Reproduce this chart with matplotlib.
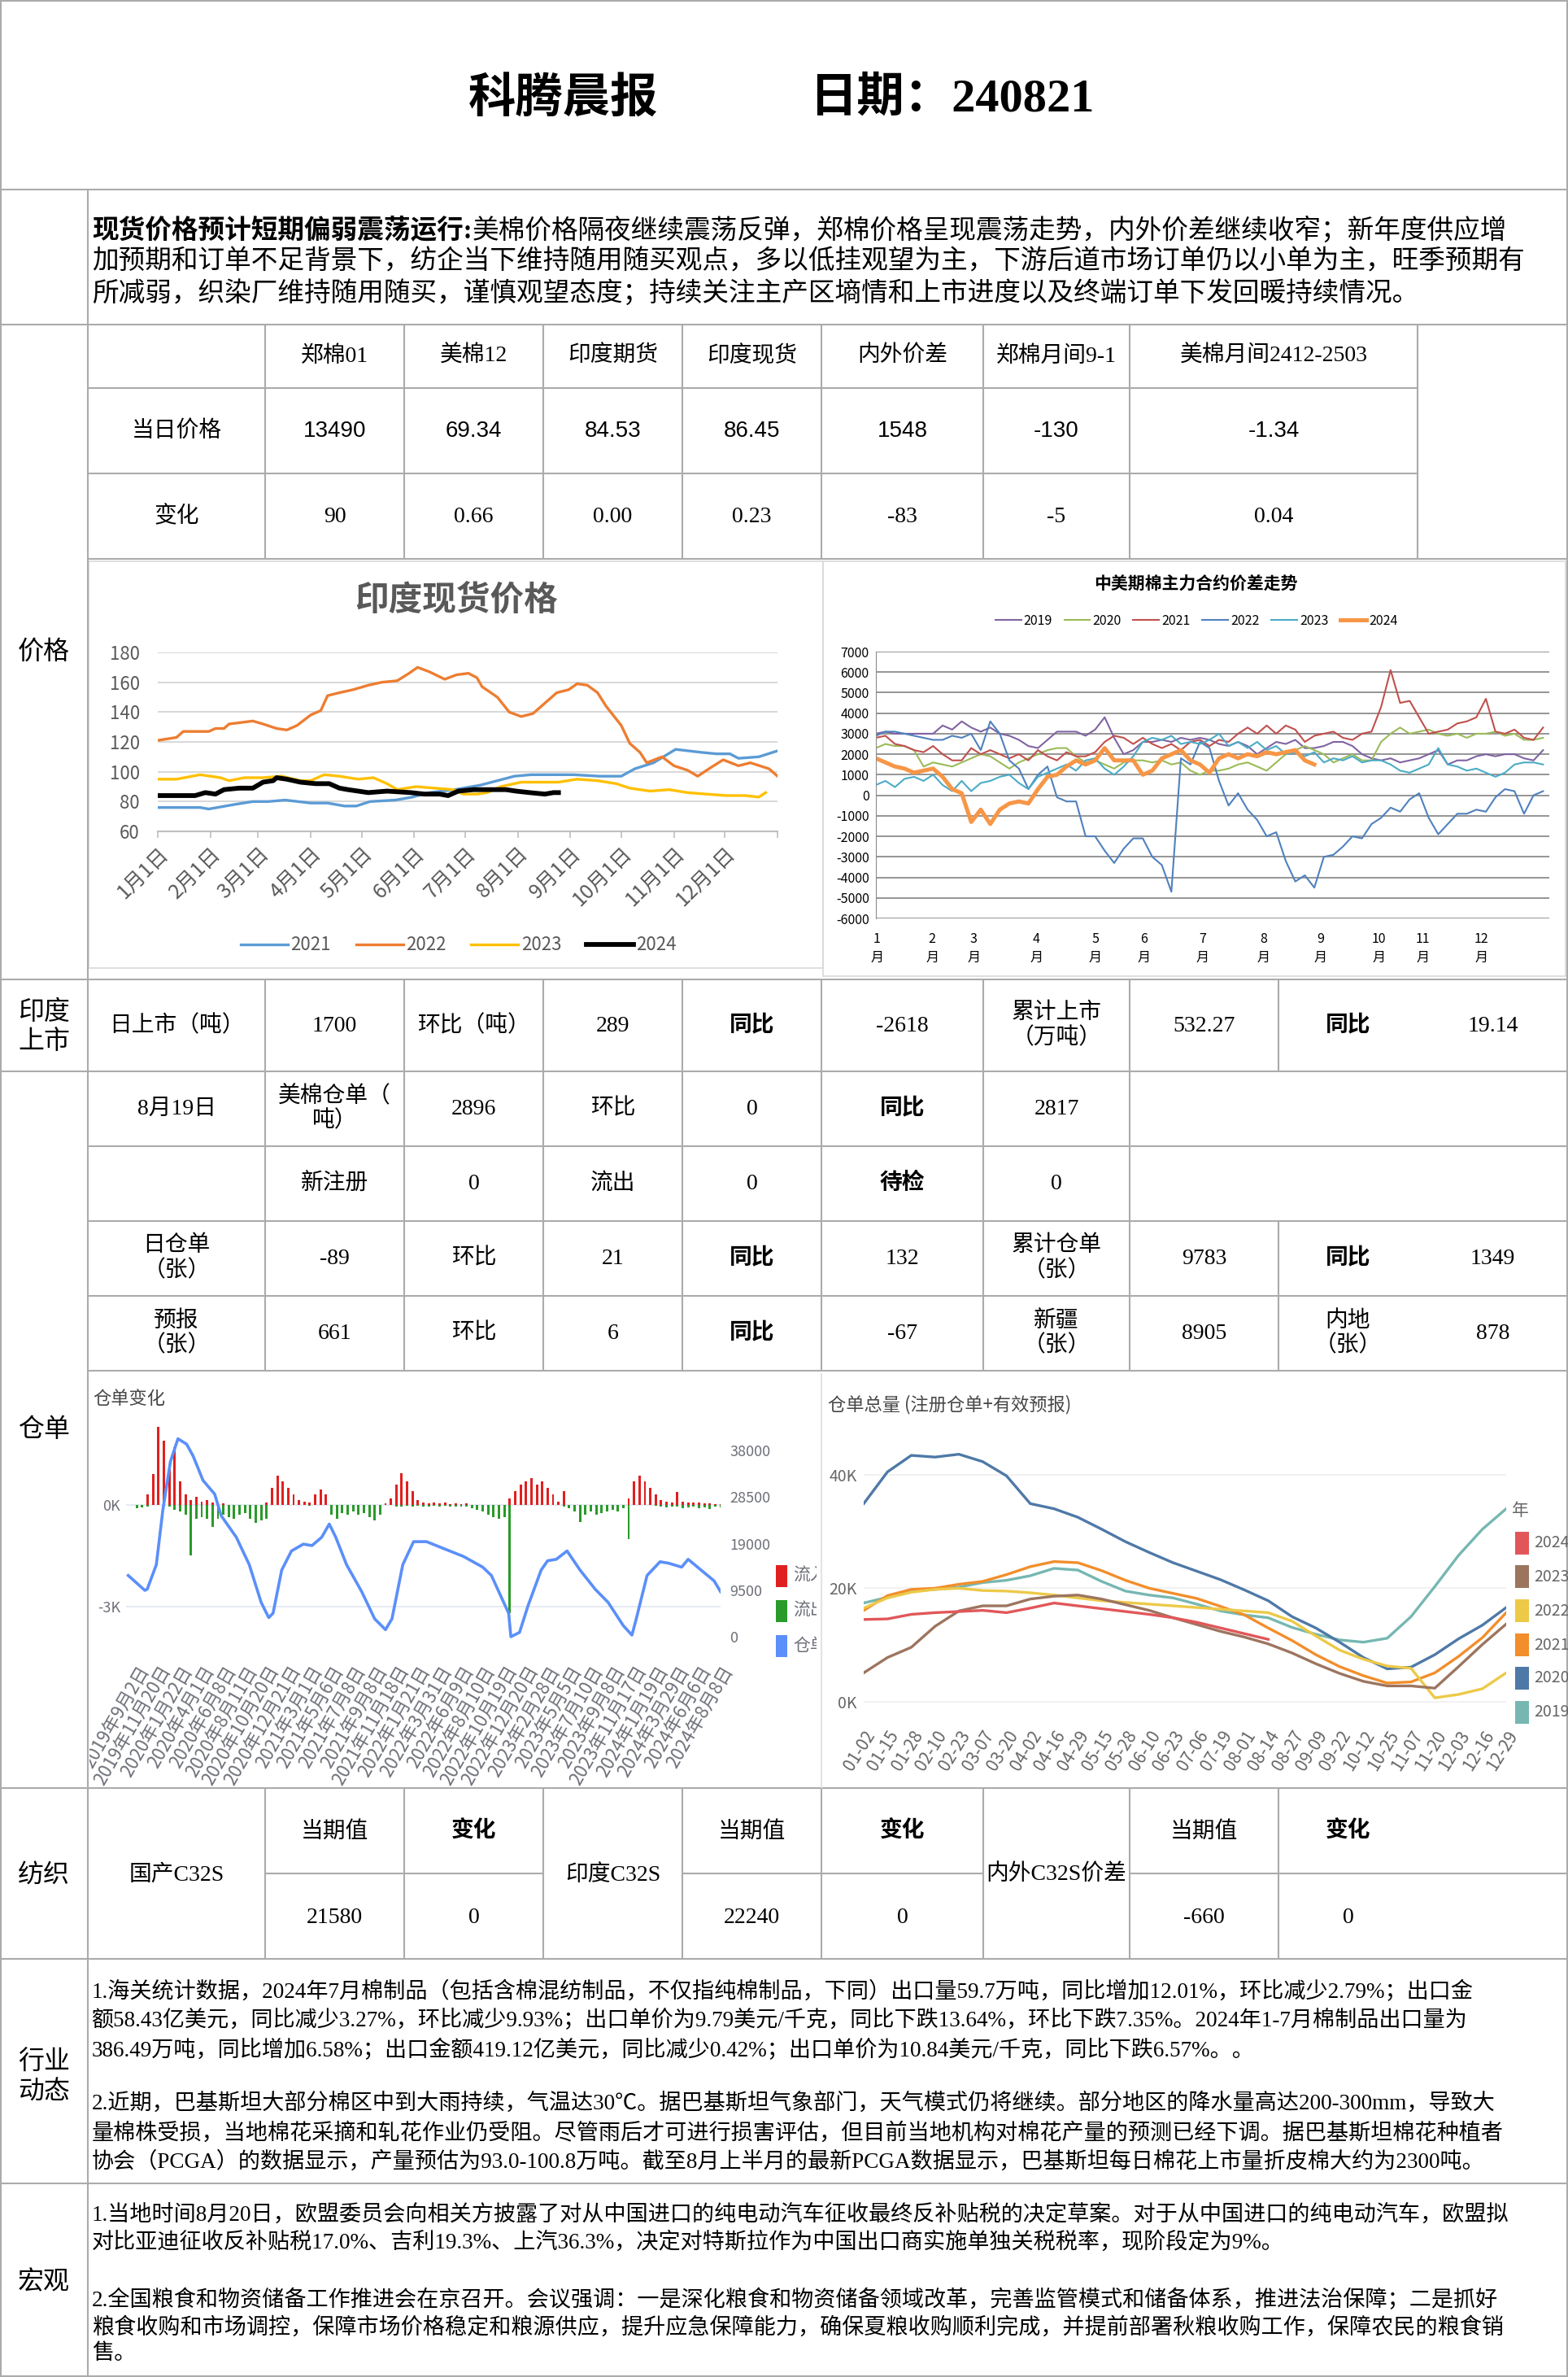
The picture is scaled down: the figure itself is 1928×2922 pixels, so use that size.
import numpy as np
import matplotlib
matplotlib.use('Agg')
import matplotlib.pyplot as plt
from matplotlib.patches import Rectangle
from matplotlib.transforms import Bbox

W, H = 1928, 2922
SANS = ['Noto Sans CJK SC', 'DejaVu Sans']
SERIF = ['Liberation Serif', 'Noto Sans CJK SC', 'DejaVu Sans']
plt.rcParams['font.family'] = SANS
plt.rcParams['axes.unicode_minus'] = False

# ---------------- table content ----------------
summary_bold = '现货价格预计短期偏弱震荡运行:'
summary_lines = ['美棉价格隔夜继续震荡反弹，郑棉价格呈现震荡走势，内外价差继续收窄；新年度供应增',
                 '加预期和订单不足背景下，纺企当下维持随用随买观点，多以低挂观望为主，下游后道市场订单仍以小单为主，旺季预期有',
                 '所减弱，织染厂维持随用随买，谨慎观望态度；持续关注主产区墒情和上市进度以及终端订单下发回暖持续情况。']

price_cols = ['郑棉01', '美棉12', '印度期货', '印度现货', '内外价差', '郑棉月间9-1', '美棉月间2412-2503']
price_today = ['13490', '69.34', '84.53', '86.45', '1548', '-130', '-1.34']
price_change = ['90', '0.66', '0.00', '0.23', '-83', '-5', '0.04']

india_row = ['日上市（吨）', '1700', '环比（吨）', '289', '同比', '-2618', '累计上市\n（万吨）', '532.27', '同比', '19.14']
wr_row1 = ['8月19日', '美棉仓单（\n吨）', '2896', '环比', '0', '同比', '2817']
wr_row2 = ['', '新注册', '0', '流出', '0', '待检', '0']
wr_row3 = ['日仓单\n（张）', '-89', '环比', '21', '同比', '132', '累计仓单\n（张）', '9783', '同比', '1349']
wr_row4 = ['预报\n（张）', '661', '环比', '6', '同比', '-67', '新疆\n（张）', '8905', '内地\n（张）', '878']
bold_words = {'同比', '待检'}

yarn_names = ['国产C32S', '印度C32S', '内外C32S价差']
yarn_now = ['21580', '22240', '-660']
yarn_chg = ['0', '0', '0']

industry_paras = [
    ['1.海关统计数据，2024年7月棉制品（包括含棉混纺制品，不仅指纯棉制品，下同）出口量59.7万吨，同比增加12.01%，环比减少2.79%；出口金',
     '额58.43亿美元，同比减少3.27%，环比减少9.93%；出口单价为9.79美元/千克，同比下跌13.64%，环比下跌7.35%。2024年1-7月棉制品出口量为',
     '386.49万吨，同比增加6.58%；出口金额419.12亿美元，同比减少0.42%；出口单价为10.84美元/千克，同比下跌6.57%。。'],
    ['2.近期，巴基斯坦大部分棉区中到大雨持续，气温达30℃。据巴基斯坦气象部门，天气模式仍将继续。部分地区的降水量高达200-300mm，导致大',
     '量棉株受损，当地棉花采摘和轧花作业仍受阻。尽管雨后才可进行损害评估，但目前当地机构对棉花产量的预测已经下调。据巴基斯坦棉花种植者',
     '协会（PCGA）的数据显示，产量预估为93.0-100.8万吨。截至8月上半月的最新PCGA数据显示，巴基斯坦每日棉花上市量折皮棉大约为2300吨。']]
macro_paras = [
    ['1.当地时间8月20日，欧盟委员会向相关方披露了对从中国进口的纯电动汽车征收最终反补贴税的决定草案。对于从中国进口的纯电动汽车，欧盟拟',
     '对比亚迪征收反补贴税17.0%、吉利19.3%、上汽36.3%，决定对特斯拉作为中国出口商实施单独关税税率，现阶段定为9%。'],
    ['2.全国粮食和物资储备工作推进会在京召开。会议强调：一是深化粮食和物资储备领域改革，完善监管模式和储备体系，推进法治保障；二是抓好',
     '粮食收购和市场调控，保障市场价格稳定和粮源供应，提升应急保障能力，确保夏粮收购顺利完成，并提前部署秋粮收购工作，保障农民的粮食销',
     '售。']]

# ---------------- chart data ----------------
# India spot price, day of year
in_days_2021 = [0, 11, 25, 30, 35, 45, 56, 65, 75, 90, 100, 110, 117, 125, 140, 150, 160, 175, 190, 200,
                210, 220, 235, 245, 260, 273, 281, 292, 305, 320, 329, 337, 342, 354, 365]
in_2021 = [76, 76, 76, 75, 76, 78, 80, 80, 81, 79, 79, 77, 77, 80, 81, 83, 86, 88, 91, 94,
           97, 98, 98, 98, 97, 97, 102, 106, 115, 113, 112, 112, 109, 110, 114]
in_days_2022 = [0, 11, 15, 30, 34, 39, 42, 56, 62, 70, 76, 82, 90, 96, 100, 107, 115, 124, 132, 141,
                148, 153, 160, 169, 176, 183, 188, 191, 200, 207, 214, 221, 228, 235, 242, 247, 253, 259, 264, 273,
                278, 284, 288, 297, 304, 312, 318, 326, 333, 342, 349, 360, 365]
in_2022 = [121, 123, 127, 127, 129, 129, 132, 134, 132, 129, 128, 131, 138, 141, 151, 153, 155, 158, 160, 161,
           166, 170, 167, 162, 165, 166, 163, 157, 150, 140, 137, 139, 146, 153, 155, 159, 158, 153, 144, 131,
           119, 113, 106, 110, 104, 101, 97, 103, 108, 104, 106, 102, 97]
in_days_2023 = [0, 11, 25, 37, 42, 51, 62, 73, 84, 90, 98, 107, 118, 127, 135, 141, 152, 163, 174, 180,
                188, 194, 202, 214, 225, 236, 247, 259, 270, 278, 290, 301, 312, 323, 335, 346, 354, 358]
in_2023 = [95, 95, 98, 96, 94, 96, 96, 97, 94, 94, 98, 97, 95, 96, 92, 88, 90, 89, 88, 85,
           85, 86, 90, 93, 93, 93, 95, 94, 92, 89, 87, 88, 86, 85, 84, 84, 83, 86]
in_days_2024 = [0, 22, 28, 34, 39, 48, 56, 62, 68, 70, 76, 84, 93, 101, 107, 112, 124, 135, 149, 157,
                166, 171, 177, 186, 197, 205, 211, 219, 228, 233, 236]
in_2024 = [84, 84, 86, 85, 88, 89, 89, 93, 94, 96, 95, 93, 92, 92, 89, 88, 86, 87, 86, 85,
           85, 84, 87, 88, 88, 88, 87, 86, 85, 86, 86]
month_days = [0, 31, 59, 90, 120, 151, 181, 212, 243, 273, 304, 334]
month_labels = ['%d月1日' % m for m in range(1, 13)]

# China-US futures spread, sampled every ~3.5 trading days
spread_2019 = [3000, 3100, 3000, 3000, 3000, 3000, 3000, 3400, 3200, 3600,
               3300, 3100, 3300, 3000, 2900, 2700, 2400, 2300, 2700, 3100,
               3100, 3100, 2900, 3200, 3800, 2800, 2000, 2200, 2600, 2600,
               2700, 2600, 2800, 2700, 2800, 2700, 2500, 2400, 2600, 2400,
               2000, 2300, 2600, 2500, 2700, 2300, 2300, 2400, 2600, 2600,
               2400, 2000, 1800, 1700, 1800, 1600, 1700, 1800, 2000, 2200,
               1500, 1700, 1700, 1900, 2000, 1900, 2000, 2000, 1800, 1700, 2200]
spread_2020 = [2300, 2500, 2400, 2400, 2200, 1400, 1600, 1500, 1400, 1600,
               1800, 2000, 1900, 1600, 1300, 1600, 1800, 2000, 2200, 2300,
               2300, 1900, 1600, 1700, 1500, 1300, 1600, 1700, 1700, 1600,
               1700, 1500, 1600, 1200, 1000, 1200, 1200, 1300, 1500, 1600,
               1400, 1200, 1600, 2000, 2200, 2400, 2200, 2000, 1600, 1800,
               2000, 1700, 1700, 2600, 3000, 3300, 3000, 3100, 3200, 3000,
               2900, 3000, 2800, 3000, 3000, 3100, 2900, 3000, 2700, 2700, 2800]
spread_2021 = [2800, 2900, 2500, 2400, 2200, 2100, 2400, 2000, 1700, 1700,
               2300, 2000, 2200, 2000, 1800, 2000, 1700, 2200, 1900, 1700,
               2100, 1900, 1900, 2100, 2600, 2900, 2800, 2500, 2800, 2500,
               2300, 2500, 2200, 2600, 2700, 2400, 2700, 2600, 3000, 3300,
               3000, 3400, 3000, 3400, 3200, 2600, 2900, 3000, 3100, 2800,
               2700, 3000, 3100, 4300, 6100, 4500, 4600, 3800, 3000, 3100,
               3200, 3500, 3600, 3800, 4700, 3100, 3000, 3200, 2800, 2700, 3300]
spread_2022 = [2900, 3100, 3100, 3000, 2900, 2800, 2700, 2700, 2900, 2800,
               3000, 2200, 3600, 3000, 1700, 1300, 300, 1000, 1400, -100,
               -300, -300, -2000, -2000, -2700, -3300, -2600, -2100, -2100, -3000,
               -3400, -4700, 1800, 1500, 2600, 2300, 700, -500, 100, -700,
               -1200, -2000, -1800, -3200, -4200, -3900, -4500, -3000, -2900, -2500,
               -2000, -2100, -1400, -1100, -600, -800, -200, 100, -1100, -1900,
               -1400, -900, -900, -700, -800, -100, 300, 200, -900, 0, 200]
spread_2023 = [500, 700, 400, 800, 900, 700, 1000, 500, 200, 700,
               200, 600, 700, 900, 1000, 600, 300, 900, 1100, 1300,
               1500, 1200, 1700, 1800, 1300, 1000, 1400, 1900, 2600, 2800,
               2700, 2900, 2500, 2600, 2500, 2700, 3000, 2400, 2600, 2300,
               2600, 2200, 2400, 2000, 2100, 1900, 2100, 1600, 1800, 1700,
               1900, 1600, 1700, 1700, 1500, 1200, 1100, 1300, 1500, 2300,
               1500, 1400, 1200, 1300, 1100, 900, 1100, 1500, 1600, 1600, 1500]
spread_2024 = [1800, 1600, 1400, 1300, 1100, 1200, 1300, 900, 300, 100,
               -1300, -700, -1400, -700, -400, -300, -400, 300, 900, 1000,
               1400, 1700, 1500, 1700, 2300, 1700, 1700, 1700, 1000, 1200,
               1800, 2000, 2200, 1700, 1500, 1100, 1800, 2000, 1800, 2000,
               1900, 2100, 2000, 2100, 2200, 1700, 1500]
spread_month_pos = [0.1, 5.9, 10.25, 16.85, 23.0, 28.15, 34.25, 40.65, 46.65, 52.75, 57.4, 63.5]

# warehouse receipt change (x in date-label units)
wr_dates = ['2019年9月2日', '2019年11月20日', '2020年1月22日', '2020年4月1日', '2020年6月8日', '2020年8月11日',
            '2020年10月20日', '2020年12月21日', '2021年3月1日', '2021年5月6日', '2021年7月8日', '2021年9月8日',
            '2021年11月18日', '2022年1月21日', '2022年3月31日', '2022年6月9日', '2022年8月10日', '2022年10月19日',
            '2022年12月20日', '2023年2月28日', '2023年5月5日', '2023年7月10日', '2023年9月8日', '2023年11月17日',
            '2024年1月19日', '2024年3月29日', '2024年6月6日', '2024年8月8日']
wr_inflow = [0, 0, 300, 900, 2300, 1900, 1100, 1700, 700, 300, 150, 250, 100, 150, 60, 80,
             50, 0, 0, 0, 0, 0, 0, 0, 60, 500, 860, 700, 500, 300, 150, 100,
             80, 300, 460, 300, 0, 0, 0, 0, 0, 0, 0, 0, 0, 0, 50, 200,
             600, 940, 700, 400, 150, 60, 50, 80, 40, 60, 30, 50, 30, 40, 0, 0,
             0, 0, 0, 0, 0, 200, 400, 600, 700, 780, 600, 700, 500, 300, 100, 400,
             0, 0, 0, 0, 0, 0, 0, 0, 0, 0, 0, 200, 700, 860, 700, 500,
             300, 150, 100, 80, 380, 100, 60, 80, 60, 40, 50, 30, 20]
wr_outflow = [-100, -80, -40, 0, 0, 0, -50, -150, -200, -300, -1500, -400, -350, -400, -650, -420,
              -300, -350, -400, -300, -250, -400, -540, -450, -420, 0, 0, 0, 0, 0, 0, 0,
              -20, 0, 0, 0, -300, -400, -250, -300, -200, -300, -250, -350, -450, -300, 0, 0,
              -50, -40, -30, -60, -30, -40, -60, -30, -50, -30, -40, -60, -40, -60, -100, -150,
              -200, -300, -350, -400, -350, -3200, 0, 0, 0, 0, 0, 0, 0, 0, 0, -50,
              -100, -200, -500, -300, -200, -300, -250, -200, -150, -200, -100, -1000, 0, 0, 0, 0,
              -30, -50, -80, -60, -60, -100, -80, -50, -100, -80, -120, -60, -80]
wr_u = [-0.4, 0.37, 0.48, 0.9, 1.2, 1.55, 1.9, 2.3, 2.6, 3.06, 3.6, 3.9, 4.6, 5.2, 5.75, 6.1, 6.3, 6.7, 7.15, 7.7,
        8.1, 8.55, 8.9, 9.2, 9.7, 10.4, 11.0, 11.5, 11.8, 12.3, 12.8, 13.4, 14.3, 15.1, 16.0, 16.4, 17.2, 17.3, 17.7, 18.1,
        18.7, 19.0, 19.4, 19.9, 20.5, 21.2, 21.8, 22.5, 22.9, 23.1, 23.6, 24.2, 24.6, 25.2, 25.5, 26.1, 26.7, 27.0]
wr_total = [12500, 9460, 9700, 14700, 25800, 35700, 40400, 39300, 36900, 31900, 29100, 24700, 20300, 14700, 7000, 3900,
            4800, 13600, 17500, 18900, 18600, 20300, 23000, 20300, 14700, 9200, 3650, 1440, 3650, 14700, 19400, 19400,
            17800, 16400, 14200, 12500, 4760, 0, 880, 6400, 13600, 15500, 15800, 17500, 13600, 9700, 7000, 2270,
            330, 3650, 12500, 15300, 15000, 14200, 15800, 13600, 11400, 9200]

# total receipts (registered + forecast), thousand, per date label
md_labels = ['01-02', '01-15', '01-28', '02-10', '02-23', '03-07', '03-20', '04-02', '04-16', '04-29',
             '05-15', '05-28', '06-10', '06-23', '07-06', '07-19', '08-01', '08-14', '08-27', '09-09',
             '09-22', '10-12', '10-25', '11-07', '11-20', '12-03', '12-16', '12-29']
wt_2019 = [17.4, 18.4, 19.5, 19.8, 20.2, 21.0, 21.4, 22.2, 23.5, 23.2, 21.2, 19.5, 18.8, 18.3, 17.2, 16.0,
           15.3, 14.8, 13.1, 11.9, 10.9, 10.5, 11.2, 15.0, 20.3, 25.8, 30.4, 34.0]
wt_2020 = [34.9, 40.5, 43.4, 43.1, 43.6, 42.3, 39.8, 34.9, 34.0, 32.5, 30.4, 28.2, 26.3, 24.5, 23.0, 21.5,
           19.7, 17.8, 15.0, 13.0, 10.5, 7.8, 5.8, 6.1, 8.3, 11.1, 13.5, 16.6]
wt_2021 = [16.1, 18.7, 19.8, 20.0, 20.7, 21.2, 22.4, 23.8, 24.7, 24.5, 23.1, 21.4, 20.0, 19.1, 18.2, 16.8,
           15.3, 13.0, 10.8, 8.3, 6.2, 4.6, 3.3, 3.5, 5.1, 8.0, 11.3, 15.7]
wt_2022 = [16.5, 18.3, 19.3, 19.8, 20.0, 19.6, 19.5, 19.2, 18.8, 18.3, 17.8, 17.5, 17.2, 16.9, 16.6, 16.3,
           16.0, 15.7, 14.2, 11.6, 9.1, 7.5, 6.3, 5.9, 0.7, 1.3, 2.3, 5.1]
wt_2023 = [5.1, 7.8, 9.6, 13.3, 16.0, 16.9, 16.9, 18.1, 18.6, 18.8, 18.1, 17.1, 16.1, 14.8, 13.6, 12.4,
           11.4, 10.2, 8.6, 6.7, 5.0, 3.6, 2.8, 2.8, 2.4, 6.2, 10.1, 13.7]
wt_2024 = [14.5, 14.6, 15.4, 15.7, 15.9, 16.1, 15.7, 16.5, 17.4, 16.9, 16.4, 15.9, 15.4, 14.8, 14.0, 13.0,
           12.0, 11.0]


def px(l, t, r, b):
    return [l / W, 1 - b / H, (r - l) / W, (b - t) / H]


def clipbox(x0, y0, x1, y1):
    return Bbox([[x0, H - y1], [x1, H - y0]])


fig = plt.figure(figsize=(W / 100, H / 100), dpi=100)
fig.patch.set_facecolor('white')
bg = fig.add_axes([0, 0, 1, 1])
bg.set_xlim(0, W)
bg.set_ylim(H, 0)
bg.axis('off')

LINE = '#ABABAB'


def hl(y, x0, x1, c=LINE):
    bg.plot([x0, x1], [y, y], color=c, lw=1.5, solid_capstyle='butt')


def vl(x, y0, y1, c=LINE):
    bg.plot([x, x], [y0, y1], color=c, lw=1.5, solid_capstyle='butt')


def put(x, y, s, size=20, fam=SERIF, bold=False, ha='center', **kw):
    return bg.text(x, y, s, fontsize=size, family=fam, fontweight='bold' if bold else 'normal',
                   ha=ha, va='center', linespacing=1.2, **kw)


# ---------------- grid ----------------
bg.add_patch(Rectangle((1, 1), W - 2, H - 2, fill=False, ec=LINE, lw=1.5))
for y in (233, 399, 1204, 1317, 2198, 2408, 2684):
    hl(y, 0, W)
for y in (477, 582):
    hl(y, 108, 1743)
for y in (687, 1409, 1501, 1593, 1685):
    hl(y, 108, W)
hl(2303, 326, 668)
hl(2303, 839, 1209)
hl(2303, 1389, W)
vl(108, 233, H)
for x in (326, 497, 668, 839, 1010, 1209, 1389, 1743):
    vl(x, 399, 687)
for x in (326, 497, 668, 839, 1010, 1209, 1389, 1572):
    vl(x, 1204, 1317)
    vl(x, 1501, 1685)
    vl(x, 2198, 2408)
for x in (326, 497, 668, 839, 1010, 1209, 1389):
    vl(x, 1317, 1501)
bg.add_patch(Rectangle((109, 690), 903, 500, fill=False, ec='#D9D9D9', lw=1.2))
bg.add_patch(Rectangle((1012, 690), 913, 510, fill=False, ec='#D9D9D9', lw=1.2))
vl(1010, 1688, 2198, c='#E3E3E3')

# ---------------- header ----------------
put(693, 122, '科腾晨报', size=42, fam=SANS, bold=True)
put(1170, 122, '日期：240821', size=42, bold=True)

renderer = fig.canvas.get_renderer()
tb = bg.text(113, 283, summary_bold, fontsize=23.5, family=SERIF, fontweight='bold', ha='left', va='center')
x_end = bg.transData.inverted().transform((tb.get_window_extent(renderer).x1, 0))[0]
bg.text(x_end, 283, summary_lines[0], fontsize=23.5, family=SERIF, ha='left', va='center')
bg.text(113, 322, summary_lines[1], fontsize=23.5, family=SERIF, ha='left', va='center')
bg.text(113, 360, summary_lines[2], fontsize=23.5, family=SERIF, ha='left', va='center')

# left labels
for s, y in [('价格', 801), ('印度\n上市', 1262), ('仓单', 1757), ('纺织', 2305), ('行业\n动态', 2553), ('宏观', 2805)]:
    put(54, y, s, size=23, fam=SANS)

# ---------------- tables ----------------
CX = [217, 411.5, 582.5, 753.5, 924.5, 1109.5, 1299, 1480.5, 1657.5, 1835.5]
price_cx = CX[1:7] + [1566]
for x, s in zip(price_cx, price_cols):
    put(x, 438, s)
put(CX[0], 530, '当日价格')
put(CX[0], 635, '变化')
for x, s in zip(price_cx, price_today):
    put(x, 530, s, fam=['Liberation Sans'])
for x, s in zip(price_cx, price_change):
    put(x, 635, s)

for row, y in [(india_row, 1261), (wr_row1, 1363), (wr_row2, 1455), (wr_row3, 1547), (wr_row4, 1639)]:
    for x, s in zip(CX, row):
        if s:
            put(x, y, s, bold=s in bold_words)

for i, (name, now, chg) in enumerate(zip(yarn_names, yarn_now, yarn_chg)):
    c0 = [CX[0], CX[3], CX[6]][i]
    c1 = [CX[1], CX[4], CX[7]][i]
    c2 = [CX[2], CX[5], CX[8]][i]
    put(c0, 2305, name)
    put(c1, 2252, '当期值')
    put(c2, 2252, '变化', bold=True)
    put(c1, 2358, now)
    put(c2, 2358, chg)

for para, ys in zip(industry_paras, [(2448, 2484, 2520), (2586, 2622, 2658)]):
    for s, y in zip(para, ys):
        put(113, y, s, size=19.5, ha='left')
for para, ys in zip(macro_paras, [(2723, 2757), (2827, 2861, 2894)]):
    for s, y in zip(para, ys):
        put(113, y, s, size=19.5, ha='left')

# ---------------- chart 1: India spot ----------------
ax1 = fig.add_axes(px(194, 802, 956, 1022))
ax1.set_facecolor('none')
ax1.plot(in_days_2021, in_2021, color='#5B9BD5', lw=2.4, label='2021')
ax1.plot(in_days_2022, in_2022, color='#ED7D31', lw=2.4, label='2022')
ax1.plot(in_days_2023, in_2023, color='#FFC000', lw=2.4, label='2023')
ax1.plot(in_days_2024, in_2024, color='black', lw=4.2, label='2024')
ax1.set_xlim(0, 365)
ax1.set_ylim(60, 180)
ax1.set_yticks(range(60, 181, 20))
ax1.yaxis.grid(True, color='#D9D9D9', lw=1.5)
ax1.set_axisbelow(True)
for s in ('top', 'right', 'left'):
    ax1.spines[s].set_visible(False)
ax1.spines['bottom'].set_color('#BFBFBF')
ax1.spines['bottom'].set_linewidth(1.5)
ax1.set_xticks(month_days)
ax1.set_xticklabels(month_labels, rotation=45, ha='right', rotation_mode='anchor')
ax1.set_xticks([365], minor=True)
ax1.tick_params(axis='x', which='both', length=6, width=1.2, color='#BFBFBF', labelsize=18,
                labelcolor='#595959', pad=4)
ax1.tick_params(axis='y', length=0, labelsize=16, labelcolor='#595959', pad=16)
put(561, 738, '印度现货价格', size=30, fam=SANS, bold=True, color='#595959')
ax1.legend(loc='center', bbox_to_anchor=(564 / W, 1 - 1162 / H), bbox_transform=fig.transFigure, ncol=4,
           frameon=False, fontsize=16, handlelength=2.6, handletextpad=0.15, columnspacing=1.4,
           labelcolor='#595959')

# ---------------- chart 2: spread ----------------
ax2 = fig.add_axes(px(1077, 801, 1905, 1129))
ax2.set_facecolor('none')
obs = np.arange(len(spread_2019))
for vals, c, lw, lab in [(spread_2019, '#8064A2', 1.5, '2019'), (spread_2020, '#9BBB59', 1.5, '2020'),
                         (spread_2021, '#C0504D', 1.5, '2021'), (spread_2022, '#4F81BD', 1.5, '2022'),
                         (spread_2023, '#4BACC6', 1.5, '2023'), (spread_2024, '#F79646', 3.6, '2024')]:
    ax2.plot(obs[:len(vals)], vals, color=c, lw=lw, label=lab)
ax2.set_xlim(0, 70.65)
ax2.set_ylim(-6000, 7000)
ax2.set_yticks(range(-6000, 7001, 1000))
ax2.yaxis.grid(True, color='#8C8C8C', lw=1.3)
ax2.set_axisbelow(True)
for s in ('top', 'right', 'bottom'):
    ax2.spines[s].set_visible(False)
ax2.spines['left'].set_color('#8C8C8C')
ax2.set_xticks(spread_month_pos)
ax2.set_xticklabels(['%d\n月' % m for m in range(1, 13)], linespacing=1.5)
ax2.tick_params(axis='x', length=0, labelsize=11.5, pad=12)
ax2.tick_params(axis='y', length=0, labelsize=11.5, pad=6)
put(1470, 718, '中美期棉主力合约价差走势', size=15, fam=SANS, bold=True)
ax2.legend(loc='center', bbox_to_anchor=(1471 / W, 1 - 763 / H), bbox_transform=fig.transFigure, ncol=6,
           frameon=False, fontsize=11.5, handlelength=2.0, handletextpad=0.2, columnspacing=0.9)

# ---------------- chart 3: receipt change ----------------
ax3 = fig.add_axes(px(155, 1740, 886, 2030))
ax3.set_facecolor('none')
bar_u = np.arange(len(wr_inflow)) * 0.25
ax3.bar(bar_u, wr_inflow, width=0.11, color='#E02020', lw=0)
ax3.bar(bar_u, wr_outflow, width=0.11, color='#2A9A2A', lw=0)
ax3.set_xlim(-0.5, 27.0)
ax3.set_ylim(-4320, 2640)
ax3.set_yticks([-3000, 0])
ax3.set_yticklabels(['-3K', '0K'])
ax3.yaxis.grid(True, color='#E0E6F1', lw=1.2)
ax3.set_axisbelow(True)
ax3.set_xticks(range(len(wr_dates)))
ax3.set_xticklabels(wr_dates, rotation=60, ha='right', rotation_mode='anchor')
ax3.tick_params(axis='x', length=0, labelsize=16, labelcolor='#6E7079', pad=10)
ax3.tick_params(axis='y', length=0, labelsize=13, labelcolor='#6E7079', pad=5)
ax3r = ax3.twinx()
ax3r.plot(wr_u, wr_total, color='#5B8FF9', lw=2.6)
ax3r.set_ylim(-2988, 45152)
ax3r.set_yticks([0, 9500, 19000, 28500, 38000])
ax3r.tick_params(axis='y', length=0, labelsize=13, labelcolor='#6E7079', pad=8)
for a in (ax3, ax3r):
    for s in a.spines.values():
        s.set_visible(False)
cb3 = clipbox(110, 1690, 1008, 2196)
for lbl in ax3.get_xticklabels():
    lbl.set_clip_box(cb3)
    lbl.set_clip_on(True)
put(114, 1720, '仓单变化', size=16, fam=SANS, ha='left', color='#464646')
cb3l = clipbox(900, 1900, 1004, 2060)
for (lab, c), y in zip([('流入', '#E02020'), ('流出', '#2A9A2A'), ('仓单', '#5B8FF9')], (1937, 1980, 2023)):
    bg.add_patch(Rectangle((954, y - 13), 14, 27, color=c, lw=0))
    t = put(975, y, lab, size=15, fam=SANS, ha='left', color='#6E7079')
    t.set_clip_box(cb3l)
    t.set_clip_on(True)

# ---------------- chart 4: total receipts ----------------
ax4 = fig.add_axes(px(1062, 1780, 1852, 2110))
ax4.set_facecolor('none')
tpos = np.arange(len(md_labels))
wt_series = [(wt_2019, '#76B7B2', '2019'), (wt_2020, '#4E79A7', '2020'), (wt_2021, '#F28E2B', '2021'),
             (wt_2022, '#EDC948', '2022'), (wt_2023, '#9C755F', '2023'), (wt_2024, '#E15759', '2024')]
for vals, c, lab in wt_series:
    ax4.plot(tpos[:len(vals)], vals, color=c, lw=2.4)
ax4.set_xlim(0, 27)
ax4.set_ylim(-2.58, 44.7)
ax4.set_yticks([0, 20, 40])
ax4.set_yticklabels(['0K', '20K', '40K'])
ax4.yaxis.grid(True, color='#EFEFEF', lw=1.2)
ax4.set_axisbelow(True)
for s in ax4.spines.values():
    s.set_visible(False)
ax4.set_xticks(tpos)
ax4.set_xticklabels(md_labels, rotation=58, ha='right', rotation_mode='anchor')
ax4.tick_params(axis='x', length=0, labelsize=15, labelcolor='#666666', pad=10)
ax4.tick_params(axis='y', length=0, labelsize=14, labelcolor='#666666', pad=6)
cb4 = clipbox(1012, 1690, 1926, 2196)
for lbl in ax4.get_xticklabels():
    lbl.set_clip_box(cb4)
    lbl.set_clip_on(True)
put(1018, 1727, '仓单总量 (注册仓单+有效预报)', size=16, fam=SANS, ha='left', color='#464646')
put(1869, 1857, '年', size=15, fam=SANS, color='#666666')
for (vals, c, lab), y in zip(wt_series[::-1], (1897, 1938, 1980, 2022, 2063, 2105)):
    bg.add_patch(Rectangle((1863, y - 14), 17, 28, color=c, lw=0))
    put(1886, y, lab, size=14, fam=SANS, ha='left', color='#666666')

fig.savefig('out.png', dpi=100)
